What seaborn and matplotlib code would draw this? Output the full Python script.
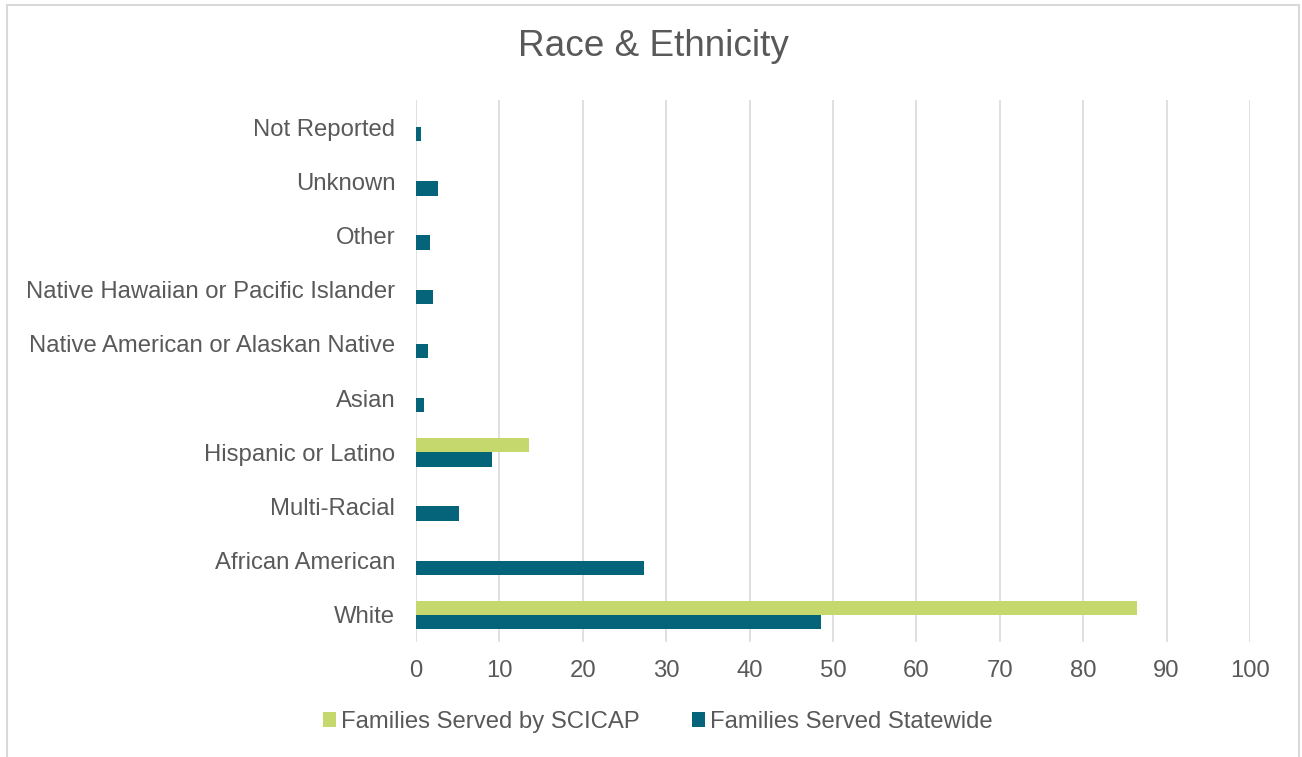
import matplotlib
matplotlib.use("Agg")
import matplotlib.pyplot as plt
import matplotlib.patches as mpatches
import seaborn as sns
import pandas as pd

# categories, top to bottom as in the chart
categories = ["Not Reported", "Unknown", "Other",
              "Native Hawaiian or Pacific Islander",
              "Native American or Alaskan Native", "Asian",
              "Hispanic or Latino", "Multi-Racial", "African American", "White"]
scicap = [0, 0, 0, 0, 0, 0, 13.6, 0, 0, 86.4]
statewide = [0.6, 2.6, 1.7, 2.0, 1.4, 1.0, 9.1, 5.2, 27.3, 48.6]
series = ["Families Served by SCICAP", "Families Served Statewide"]
x_ticks = [0, 10, 20, 30, 40, 50, 60, 70, 80, 90, 100]

GREEN = "#C5D86D"
TEAL = "#05637A"
TEXT = "#595959"
GRID = "#D9D9D9"

df = pd.DataFrame({
    "category": categories * 2,
    "value": scicap + statewide,
    "series": [series[0]] * len(categories) + [series[1]] * len(categories),
})

sns.set_theme(style="white")
plt.rcParams["font.family"] = ["Liberation Sans", "DejaVu Sans"]

fig = plt.figure(figsize=(13.02, 7.57), dpi=100)
ax = fig.add_axes([416 / 1302, 1 - 642 / 757, (1250 - 416) / 1302, (642 - 100) / 757])

sns.barplot(data=df, y="category", x="value", hue="series", order=categories,
            hue_order=series, palette=[GREEN, TEAL], orient="h",
            width=0.53, gap=0, linewidth=0, saturation=1, ax=ax)

ax.set_xlim(0, 100)
ax.set_xticks(x_ticks)
ax.set_xlabel("")
ax.set_ylabel("")
ax.grid(axis="x", color=GRID, linewidth=1.2)
ax.grid(axis="y", visible=False)
ax.set_axisbelow(True)
for s in ax.spines.values():
    s.set_visible(False)
ax.tick_params(axis="x", length=0, pad=13, labelsize=17.2, labelcolor=TEXT)
ax.tick_params(axis="y", length=0, pad=15, labelsize=17.2, labelcolor=TEXT)

# legend at bottom
handles, labels = ax.get_legend_handles_labels()
ax.get_legend().remove()
fig.legend(handles, labels, loc="center", bbox_to_anchor=(0.505, 1 - 722 / 757),
           ncol=2, frameon=False, fontsize=17.2, labelcolor=TEXT,
           handlelength=0.55, handleheight=0.55, handletextpad=0.2,
           columnspacing=2.2)

fig.text(653 / 1302, 1 - 47 / 757, "Race & Ethnicity", ha="center", va="center",
         fontsize=26.6, color=TEXT)

# chart area border
fig.patches.append(mpatches.Rectangle((7 / 1302, -0.05), (1299 - 7) / 1302, 1.05 - 5 / 757,
                                      transform=fig.transFigure, fill=False,
                                      edgecolor=GRID, linewidth=1.5))

fig.savefig("out.png", dpi=100, facecolor="white")
